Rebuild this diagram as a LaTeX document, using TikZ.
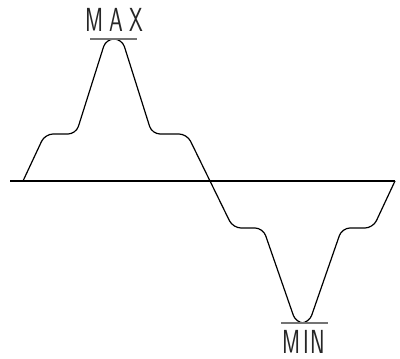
\documentclass[tikz,border=0pt]{standalone}
\usepackage{fontspec}
\usepackage{graphicx}
\begin{document}
\begin{tikzpicture}[x=0.75pt,y=-0.75pt,
  curve/.style={line width=0.9pt, rounded corners=6pt, line join=round},
  axis/.style={line width=0.9pt},
  bar/.style={line width=1.6pt, draw=black!55},
  lbl/.style={inner sep=0pt, anchor=base, text=black!85,
    font=\sffamily\fontsize{25}{26}\selectfont}]
\useasboundingbox (0,0) rectangle (400,359);
\draw[axis] (10,181) -- (395,181);
\draw[curve] (23,181) -- (45,134) -- (76,134) -- (106,39) -- (122,39)
  -- (152,134) -- (187,134) -- (233,228) -- (263,228) -- (296,323)
  -- (309,323) -- (342,228) -- (373,228) -- (395,181);
\draw[bar] (90,39) -- (137,39);
\draw[bar] (281,323) -- (328,323);
\node[lbl] (max) at (114.5,32) {\scalebox{0.66}[1]{M\kern7pt A\kern7pt X}};
\node[lbl] (min) at (304,354) {\scalebox{0.66}[1]{M\kern3pt I\kern2pt N}};
\end{tikzpicture}
\end{document}
